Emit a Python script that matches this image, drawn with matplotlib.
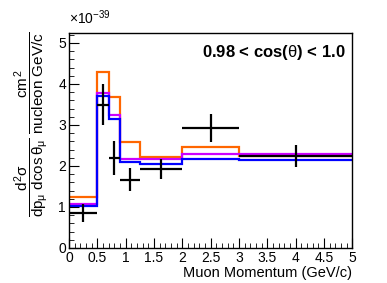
import matplotlib
matplotlib.use('Agg')
import matplotlib.pyplot as plt
import numpy as np
from matplotlib.ticker import MultipleLocator

plt.rcParams['font.family'] = ['Liberation Sans', 'DejaVu Sans']
plt.rcParams['mathtext.fontset'] = 'custom'
plt.rcParams['mathtext.rm'] = 'Liberation Sans'
plt.rcParams['mathtext.it'] = 'Liberation Sans'
plt.rcParams['mathtext.bf'] = 'Liberation Sans:bold'

# bin edges (GeV/c) and model predictions (x 1e-39)
edges = [0.0, 0.5, 0.7, 0.9, 1.25, 2.0, 3.0, 5.0]
orange_vals = [1.23, 4.28, 3.69, 2.59, 2.21, 2.46, 2.23]
magenta_vals = [1.07, 3.79, 3.24, 2.18, 2.18, 2.30, 2.28]
blue_vals = [1.03, 3.71, 3.15, 2.10, 2.05, 2.18, 2.15]

# data points
data_x = [0.25, 0.6, 0.8, 1.075, 1.625, 2.5, 4.0]
data_xerr = [0.25, 0.1, 0.1, 0.175, 0.375, 0.5, 1.0]
data_y = [0.85, 3.49, 2.20, 1.66, 1.93, 2.93, 2.24]
data_yerr = [0.23, 0.50, 0.42, 0.28, 0.24, 0.34, 0.27]

fig = plt.figure(figsize=(3.87, 2.83), dpi=100)
ax = fig.add_axes([0.178, 0.124, 0.732, 0.759])


def step(ax, vals, color):
    ax.stairs(vals, edges, color=color, linewidth=1.6, baseline=None)


step(ax, orange_vals, '#ff6600')
step(ax, magenta_vals, '#cc00ff')
step(ax, blue_vals, '#0000ff')
ax.errorbar(data_x, data_y, xerr=data_xerr, yerr=data_yerr, fmt='none',
            ecolor='black', elinewidth=1.6, capsize=0, zorder=5)

ax.set_xlim(0, 5)
ax.set_ylim(0, 5.24)
ax.xaxis.set_minor_locator(MultipleLocator(0.1))
ax.yaxis.set_major_locator(MultipleLocator(1))
ax.yaxis.set_minor_locator(MultipleLocator(0.2))
ax.set_xticks(np.arange(0, 5.01, 0.5))
ax.set_xticklabels(['0', '0.5', '1', '1.5', '2', '2.5', '3', '3.5', '4', '4.5', '5'])
ax.tick_params(which='both', direction='in', top=False, right=False, labelsize=10, pad=2)
ax.tick_params(which='major', length=7)
ax.tick_params(which='minor', length=3.5)
for s in ax.spines.values():
    s.set_linewidth(1.0)

ax.set_xlabel('Muon Momentum (GeV/c)', fontsize=10.5, ha='right', x=1.0, labelpad=1)
fig.text(0.082, 0.562,
         r'$\dfrac{d^{2}\sigma}{dp_{\mu}\ d\cos\theta_{\mu}}\ \dfrac{cm^{2}}{nucleon\ GeV/c}$',
         rotation=90, fontsize=11, ha='center', va='center')
fig.text(0.178, 0.905, r'$\times10^{-39}$', fontsize=10, ha='left', va='bottom')
ax.text(0.975, 0.91, r'0.98 < cos($\theta$) < 1.0', transform=ax.transAxes,
        fontsize=12, fontweight='bold', ha='right', va='center')

fig.savefig('out.png', dpi=100)
